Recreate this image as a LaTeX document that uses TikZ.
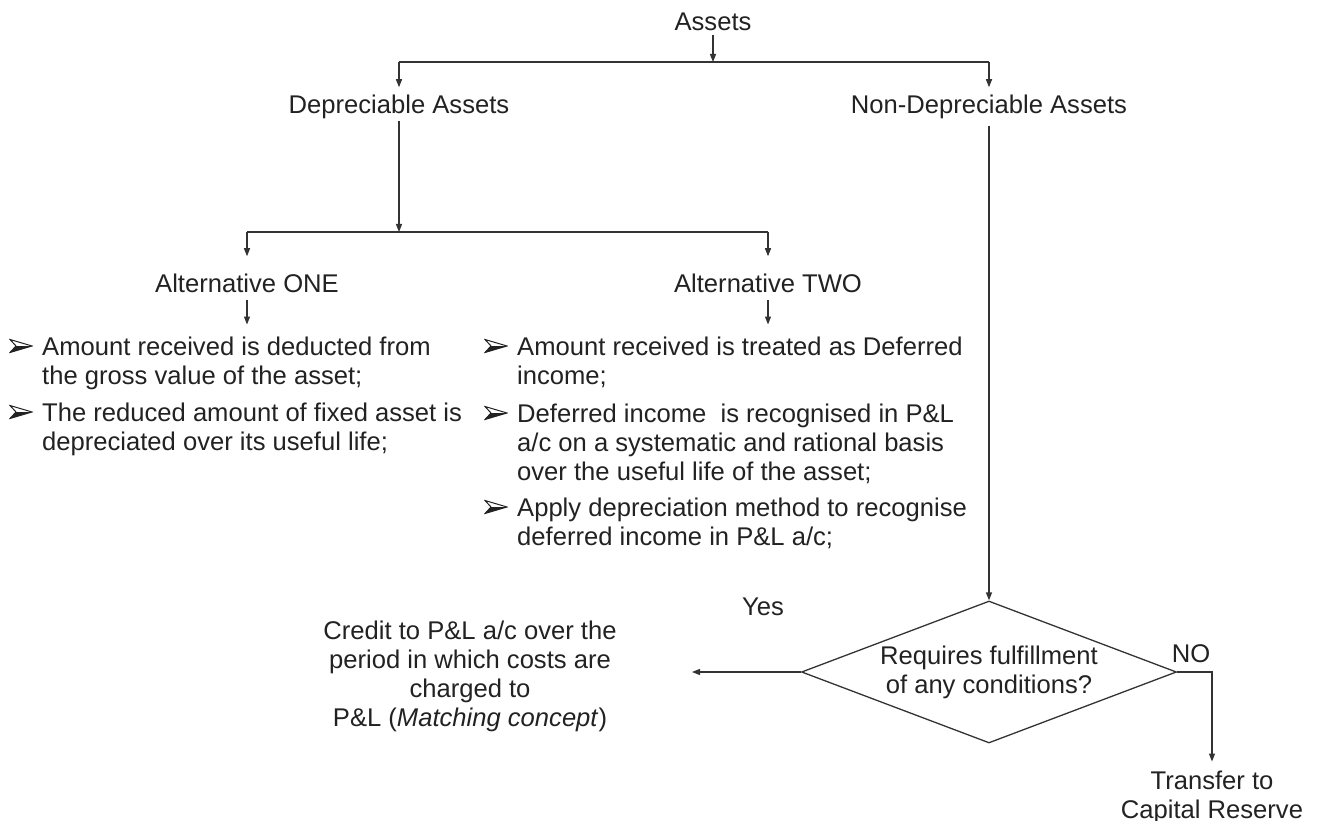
\documentclass[tikz,border=0pt]{standalone}
\usepackage{fontspec}
\setmainfont{Liberation Sans}
\usetikzlibrary{arrows.meta,shapes.geometric}
\definecolor{txt}{HTML}{222222}
\definecolor{lnc}{HTML}{333333}
\newcommand{\fs}{\fontsize{25.6}{29}\selectfont}
\begin{document}
\begin{tikzpicture}[x=1pt,y=-1pt,
 lbl/.style={inner sep=0pt,text=txt,font=\fs},
 single/.style={lbl,anchor=base},
 para/.style={lbl,align=left,anchor=west},
 bul/.style={minimum width=24pt,minimum height=15pt,inner sep=0pt,path picture={
   \draw[txt,line width=1pt,line join=miter,fill=white]
     ([xshift=1pt,yshift=-1pt]path picture bounding box.north west)
     -- ([xshift=-1pt]path picture bounding box.east)
     -- ([xshift=1pt,yshift=1pt]path picture bounding box.south west)
     -- ([xshift=7pt]path picture bounding box.west) -- cycle;
   \fill[txt]
     ([xshift=7pt]path picture bounding box.west)
     -- ([xshift=-1pt]path picture bounding box.east)
     -- ([xshift=1pt,yshift=1pt]path picture bounding box.south west) -- cycle;
 }},
 conn/.style={draw=lnc,line width=1.3pt},
 arr/.style={conn,-{Triangle[length=8pt,width=6pt]}},
]
\useasboundingbox[fill=white] (0,0) rectangle (1323,821);

\node[single] (assets) at (713,31) {Assets};
\node[single] (dep) at (399,114) {Depreciable Assets};
\node[single] (nondep) at (989,114) {Non-Depreciable Assets};
\node[single] (alt1) at (247,292) {Alternative ONE};
\node[single] (alt2) at (768,292) {Alternative TWO};

\node[para] (l1) at (42,363.7) {\strut Amount received is deducted from\\the gross value of the asset;\strut};
\node[bul] (b1) at (21,346) {};
\node[para] (l2) at (42,429.7) {\strut The reduced amount of fixed asset is\\depreciated over its useful life;\strut};
\node[bul] (b2) at (21,412) {};
\node[para] (r1) at (517,363.7) {\strut Amount received is treated as Deferred\\income;\strut};
\node[bul] (b3) at (496,346) {};
\node[para] (r2) at (517,445.2) {\strut Deferred income\ \ is recognised in P\&L\\a/c on a systematic and rational basis\\over the useful life of the asset;\strut};
\node[bul] (b4) at (496,413) {};
\node[para] (r3) at (517,524.7) {\strut Apply depreciation method to recognise\\deferred income in P\&L a/c;\strut};
\node[bul] (b5) at (496,507) {};

\node[draw=lnc,line width=1.3pt,diamond,minimum width=375pt,minimum height=142pt,inner sep=0pt] (dia) at (989,672) {};
\node[lbl,align=center] (dtext) at (989,672.7) {\strut Requires fulfillment\\of any conditions?\strut};
\node[lbl,align=center] (credit) at (470,676.7) {\strut Credit to P\&L a/c over the\\period in which costs are\\charged to\\P\&L (\textit{Matching concept})\strut};
\node[single] (yes) at (763,615) {Yes};
\node[single] (no) at (1191,662) {NO};
\node[lbl,align=center] (transfer) at (1212,797.7) {\strut Transfer to\\Capital Reserve\strut};

\coordinate (j1) at (713,62);
\coordinate (j2) at (399,232);
\coordinate (yesend) at (692,672);

\draw[arr] ([yshift=-4pt]assets.south) -- (j1);
\draw[conn] (dep.north |- j1) -- (nondep.north |- j1);
\draw[arr] (dep.north |- j1) -- ([yshift=8pt]dep.north);
\draw[arr] (nondep.north |- j1) -- ([yshift=8pt]nondep.north);
\draw[arr] ([yshift=-1pt]dep.south) -- (j2);
\draw[conn] (alt1.north |- j2) -- (alt2.north |- j2);
\draw[arr] (alt1.north |- j2) -- ([yshift=17pt]alt1.north);
\draw[arr] (alt2.north |- j2) -- ([yshift=17pt]alt2.north);
\draw[arr,shorten <=8pt,shorten >=10pt] (alt1.south) -- (alt1.south |- l1.north);
\draw[arr,shorten <=8pt,shorten >=10pt] (alt2.south) -- (alt2.south |- r1.north);
\draw[arr] ([yshift=-6pt]nondep.south) -- (dia.north);
\draw[arr] (dia.west) -- (yesend);
\draw[arr,shorten >=7pt] (dia.east) -| (transfer.north);
\end{tikzpicture}
\end{document}
